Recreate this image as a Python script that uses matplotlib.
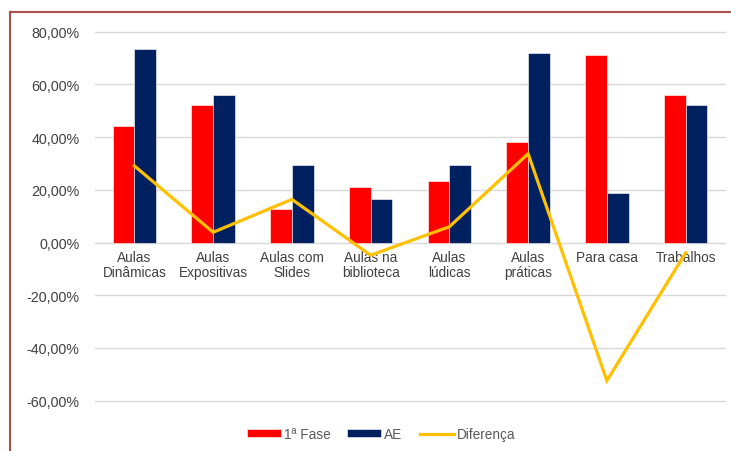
import matplotlib
matplotlib.use("Agg")
import matplotlib.pyplot as plt
import numpy as np
from matplotlib.ticker import FuncFormatter
from matplotlib.lines import Line2D

categories = ["Aulas\nDinâmicas", "Aulas\nExpositivas", "Aulas com\nSlides", "Aulas na\nbiblioteca",
              "Aulas\nlúdicas", "Aulas\npráticas", "Para casa", "Trabalhos"]
fase1 = [44.3, 52.1, 12.9, 21.2, 23.3, 38.2, 71.2, 56.0]
ae = [73.4, 56.0, 29.3, 16.4, 29.3, 71.9, 18.8, 52.1]
diferenca = [29.1, 3.9, 16.4, -4.8, 6.0, 33.7, -52.4, -3.9]
yticks = [-60, -40, -20, 0, 20, 40, 60, 80]

W, H = 731, 452
fig = plt.figure(figsize=(W / 100, H / 100), dpi=100)
plt.rcParams['font.family'] = ['Liberation Sans', 'DejaVu Sans']

left, right = 95 / W, 725 / W
top_px, bot_px = 32.7, 401.7
ax = fig.add_axes([left, 1 - bot_px / H, right - left, (bot_px - top_px) / H])

x = np.arange(len(categories))
bw = 0.275
b1 = ax.bar(x - bw / 2, fase1, bw, color='#FF0000', edgecolor='white', linewidth=0.4, label='1ª Fase', zorder=2)
b2 = ax.bar(x + bw / 2, ae, bw, color='#002060', edgecolor='white', linewidth=0.4, label='AE', zorder=2)
l1, = ax.plot(x, diferenca, color='#FFC000', linewidth=2.3, label='Diferença', zorder=3, solid_joinstyle='miter')

ax.set_xlim(-0.5, len(categories) - 0.5)
ax.set_ylim(-60, 80)
ax.set_yticks(yticks)
ax.yaxis.set_major_formatter(FuncFormatter(lambda v, p: f"{v:.2f}".replace('.', ',') + "%"))
ax.grid(axis='y', color='#d9d9d9', linewidth=1.0, zorder=0)
for g in ax.get_ygridlines():
    g.set_clip_on(False)
ax.set_axisbelow(True)

for s in ['left', 'right', 'top']:
    ax.spines[s].set_visible(False)
ax.spines['bottom'].set_position(('data', 0))
ax.spines['bottom'].set_color('#d9d9d9')
ax.spines['bottom'].set_zorder(1)

ax.set_xticks(x)
ax.set_xticklabels(categories, fontsize=9.8, color='#404040', linespacing=1.15)
ax.tick_params(axis='x', length=0, pad=5)
ax.tick_params(axis='y', length=0, pad=11, labelsize=10.3, labelcolor='#404040')

leg = fig.legend(handles=[b1, b2, l1], loc='center', bbox_to_anchor=(381 / W, 1 - 435 / H), ncol=3,
                 frameon=False, fontsize=9.8, handlelength=2.5, handleheight=0.55,
                 columnspacing=1.25, handletextpad=0.22)
for t in leg.get_texts():
    t.set_color('#595959')

bc = '#a9504c'
fig.add_artist(Line2D([9.5 / W, 9.5 / W], [0, 1 - 12.5 / H], color=bc, linewidth=1.5, transform=fig.transFigure))
fig.add_artist(Line2D([9.5 / W, 1.0], [1 - 12.5 / H, 1 - 12.5 / H], color=bc, linewidth=1.5, transform=fig.transFigure))

fig.savefig("out.png", dpi=100)
